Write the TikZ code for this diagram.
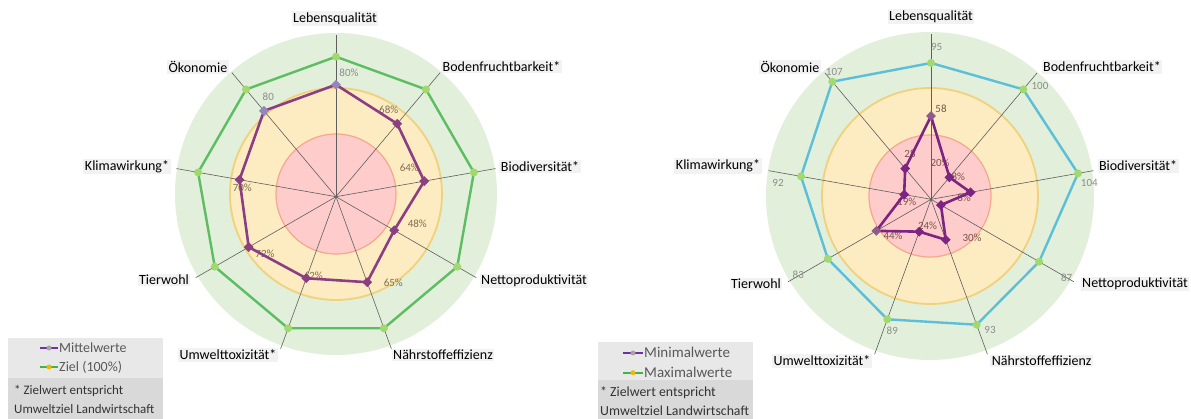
\documentclass[tikz,border=0pt]{standalone}
\usepackage{fontspec}
\setmainfont{Carlito}
\usetikzlibrary{calc,shapes.geometric}

\definecolor{bggreen}{HTML}{E2EFDA}
\definecolor{bgyellow}{HTML}{FDEBC1}
\definecolor{edgeyellow}{HTML}{F0D27C}
\definecolor{bgred}{HTML}{FFCCCC}
\definecolor{edgered}{HTML}{F6A78C}
\definecolor{zielgreen}{HTML}{5CBD62}
\definecolor{dotgreen}{HTML}{A2D96F}
\definecolor{maxblue}{HTML}{5BBFD9}
\definecolor{mittelpurple}{HTML}{8B3F82}
\definecolor{lightpurple}{HTML}{9485BE}
\definecolor{minpurple}{HTML}{7D2382}
\definecolor{minlight}{HTML}{8E5C8C}
\definecolor{axisgray}{HTML}{5E5E5E}
\definecolor{labelbg}{HTML}{F2F2F2}
\definecolor{dlgray}{HTML}{8C8C8C}
\definecolor{dlbrown}{HTML}{7D7050}
\definecolor{dlred}{HTML}{7A5548}
\definecolor{legbgA}{HTML}{E8E8E8}
\definecolor{legbgB}{HTML}{D9D9D9}
\definecolor{legpurple}{HTML}{7030A0}
\definecolor{leggreen}{HTML}{3DB54A}
\definecolor{legorange}{HTML}{F5B800}
\definecolor{leggray}{HTML}{A5A5A5}
\definecolor{legtextgray}{HTML}{595959}
\definecolor{notegray}{HTML}{333333}

\tikzset{
  axisline/.style={draw=axisgray, line width=0.6pt},
  axislabel/.style={font=\fontsize{14}{16}\selectfont, fill=labelbg, inner xsep=1.5pt, inner ysep=1.5pt, text=black},
  datalabel/.style={font=\fontsize{11}{13}\selectfont, inner sep=0pt},
  zielline/.style={draw=zielgreen, line width=2.4pt, line join=round},
  maxline/.style={draw=maxblue, line width=2.4pt, line join=round},
  mittelline/.style={draw=mittelpurple, line width=2.6pt, line join=round},
  minline/.style={draw=minpurple, line width=2.6pt, line join=round},
  gdot/.style={circle, fill=dotgreen, inner sep=0pt, minimum size=8pt},
  pdia/.style={diamond, fill=#1, inner sep=0pt, minimum size=10pt},
  legtext/.style={anchor=west, inner sep=0pt, text=legtextgray},
  notetext/.style={anchor=west, inner sep=0pt, text=notegray, font=\fontsize{13}{15}\selectfont},
}

\begin{document}
\begin{tikzpicture}[x=1pt,y=-1pt]
\useasboundingbox (0,0) rectangle (1191,419);

% ================= LEFT CHART =================
\coordinate (Lc) at (336,194);
\coordinate (Lh) at (336,196.7);
\fill[bggreen] (Lc) circle[radius=161];
\filldraw[fill=bgyellow, draw=edgeyellow, line width=1.8pt] (Lc) circle[radius=106];
\filldraw[fill=bgred, draw=edgered, line width=1.2pt] (Lc) circle[radius=60];
\foreach \k in {0,...,8} \draw[axisline] (Lh) -- ++({-90+40*\k}:162);

\foreach \v [count=\i from 0] in {80,68,64,48,65,62,72,70,80}
  \coordinate (Lm\i) at ($(Lh)+({-90+40*\i}:{1.40*\v})$);
\foreach \i in {0,...,8}
  \coordinate (Lz\i) at ($(Lh)+({-90+40*\i}:140)$);

% data labels
\node[datalabel, text=dlgray]  (lab80a) at (349,72.3) {80\%};
\node[datalabel, text=dlbrown] (lab68) at (388.7,110) {68\%};
\node[datalabel, text=dlbrown] (lab64) at (409.3,167.3) {64\%};
\node[datalabel, text=dlbrown] (lab48) at (417.3,224) {48\%};
\node[datalabel, text=dlbrown] (lab65) at (393.3,282.3) {65\%};
\node[datalabel, text=dlbrown] (lab62) at (313.3,275.7) {62\%};
\node[datalabel, text=dlbrown] (lab72) at (265,254) {72\%};
\node[datalabel, text=dlbrown] (lab70) at (242.3,187.7) {70\%};
\node[datalabel, text=dlgray]  (lab80b) at (268.3,96.7) {80};

\draw[zielline] (Lz0) -- (Lz1) -- (Lz2) -- (Lz3) -- (Lz4) -- (Lz5) -- (Lz6) -- (Lz7) -- (Lz8) -- cycle;
\foreach \i in {0,...,8} \node[gdot] (Lzd\i) at (Lz\i) {};
\draw[mittelline] (Lm0) -- (Lm1) -- (Lm2) -- (Lm3) -- (Lm4) -- (Lm5) -- (Lm6) -- (Lm7) -- (Lm8) -- cycle;
\foreach \i in {1,...,7} \node[pdia=mittelpurple] (Lmd\i) at (Lm\i) {};
\node[pdia=lightpurple] (Lmd0) at (Lm0) {};
\node[pdia=lightpurple] (Lmd8) at (Lm8) {};

% axis labels
\node[axislabel] (Lax0) at (335,18.3) {Lebensqualität};
\node[axislabel] (Lax1) at (501.5,66.7) {Bodenfruchtbarkeit*};
\node[axislabel] (Lax2) at (540,166.7) {Biodiversität*};
\node[axislabel] (Lax3) at (534,281) {Nettoproduktivität};
\node[axislabel] (Lax4) at (443,355) {Nährstoffeffizienz};
\node[axislabel] (Lax5) at (228,355) {Umwelttoxizität*};
\node[axislabel] (Lax6) at (164,280) {Tierwohl};
\node[axislabel] (Lax7) at (127,166.7) {Klimawirkung*};
\node[axislabel] (Lax8) at (198,66.7) {Ökonomie};

% legend
\fill[legbgA] (8,338) rectangle (163,378);
\fill[legbgB] (8,378) rectangle (163,419);
\coordinate (lg1a) at (40,348); \coordinate (lg1b) at (58,348);
\draw[legpurple, line width=1.8pt] (lg1a) -- (lg1b);
\node[circle, fill=leggray, inner sep=0pt, minimum size=5pt] (lg1d) at ($(lg1a)!0.5!(lg1b)$) {};
\coordinate (lg2a) at (40,367); \coordinate (lg2b) at (58,367);
\draw[leggreen, line width=1.8pt] (lg2a) -- (lg2b);
\node[circle, fill=legorange, inner sep=0pt, minimum size=5pt] (lg2d) at ($(lg2a)!0.5!(lg2b)$) {};
\node[legtext, font=\fontsize{14}{16}\selectfont] (lgt1) at (59,348) {Mittelwerte};
\node[legtext, font=\fontsize{14}{16}\selectfont] (lgt2) at (59,367) {Ziel (100\%)};
\node[notetext] (nt1) at (14,391) {* Zielwert entspricht};
\node[notetext] (nt2) at (14,409) {Umweltziel Landwirtschaft};

% ================= RIGHT CHART =================
\coordinate (Rc) at (930,196);
\coordinate (Rh) at (931,199.3);
\fill[bggreen] (Rc) circle[radius=164];
\filldraw[fill=bgyellow, draw=edgeyellow, line width=1.8pt] (Rc) circle[radius=108];
\filldraw[fill=bgred, draw=edgered, line width=1.2pt] (Rc) circle[radius=61];
\foreach \k in {0,...,8} \draw[axisline] (Rh) -- ++({-90+40*\k}:165);

\foreach \v [count=\i from 0] in {58,20,28,8,30,24,44,19,28}
  \coordinate (Rn\i) at ($(Rh)+({-90+40*\i}:{1.435*\v})$);
\foreach \v [count=\i from 0] in {95,100,104,87,93,89,83,92,107}
  \coordinate (Rx\i) at ($(Rh)+({-90+40*\i}:{1.435*\v})$);

% data labels
\node[datalabel, text=dlgray] (rl95) at (936.7,47.3) {95};
\node[datalabel, text=dlgray] (rl100) at (1040,86) {100};
\node[datalabel, text=dlgray] (rl104) at (1089.3,182.7) {104};
\node[datalabel, text=dlgray] (rl87) at (1066.7,277.7) {87};
\node[datalabel, text=dlgray] (rl93) at (990,330) {93};
\node[datalabel, text=dlgray] (rl89) at (892.3,330.7) {89};
\node[datalabel, text=dlgray] (rl83) at (798.3,275) {83};
\node[datalabel, text=dlgray] (rl92) at (778,183) {92};
\node[datalabel, text=dlgray] (rl107) at (834.3,72.3) {107};
\node[datalabel, text=dlred] (rn58) at (941,109) {58};
\node[datalabel, text=dlred] (rn28) at (910,153.3) {28};
\node[datalabel, text=dlred] (rn20) at (940,162.3) {20\%};
\node[datalabel, text=dlred] (rn18) at (955.5,176.7) {18\%};
\node[datalabel, text=dlred] (rn8) at (964,197.3) {8\%};
\node[datalabel, text=dlred] (rn30) at (972,237.7) {30\%};
\node[datalabel, text=dlred] (rn24) at (927.5,226) {24\%};
\node[datalabel, text=dlred] (rn44) at (893,236) {44\%};
\node[datalabel, text=dlred] (rn19) at (906.7,201.7) {19\%};

\draw[maxline] (Rx0) -- (Rx1) -- (Rx2) -- (Rx3) -- (Rx4) -- (Rx5) -- (Rx6) -- (Rx7) -- (Rx8) -- cycle;
\foreach \i in {0,...,8} \node[gdot] (Rxd\i) at (Rx\i) {};
\draw[minline] (Rn0) -- (Rn1) -- (Rn2) -- (Rn3) -- (Rn4) -- (Rn5) -- (Rn6) -- (Rn7) -- (Rn8) -- cycle;
\foreach \i in {1,...,5,7,8} \node[pdia=minpurple] (Rnd\i) at (Rn\i) {};
\node[pdia=minlight] (Rnd0) at (Rn0) {};
\node[pdia=minlight] (Rnd6) at (Rn6) {};

% axis labels
\node[axislabel] (Rax0) at (931,16.3) {Lebensqualität};
\node[axislabel] (Rax1) at (1102,67) {Bodenfruchtbarkeit*};
\node[axislabel] (Rax2) at (1138,166) {Biodiversität*};
\node[axislabel] (Rax3) at (1135,284) {Nettoproduktivität};
\node[axislabel] (Rax4) at (1041.6,361) {Nährstoffeffizienz};
\node[axislabel] (Rax5) at (822,361) {Umwelttoxizität*};
\node[axislabel] (Rax6) at (756,284) {Tierwohl};
\node[axislabel] (Rax7) at (718,166) {Klimawirkung*};
\node[axislabel] (Rax8) at (790,67) {Ökonomie};

% legend
\fill[legbgA] (598,342) rectangle (753,380);
\fill[legbgB] (598,380) rectangle (753,419);
\coordinate (rg1a) at (623,353); \coordinate (rg1b) at (643,353);
\draw[legpurple, line width=1.8pt] (rg1a) -- (rg1b);
\node[circle, fill=leggray, inner sep=0pt, minimum size=5pt] (rg1d) at ($(rg1a)!0.5!(rg1b)$) {};
\coordinate (rg2a) at (623,372.7); \coordinate (rg2b) at (643,372.7);
\draw[leggreen, line width=1.8pt] (rg2a) -- (rg2b);
\node[circle, fill=legorange, inner sep=0pt, minimum size=5pt] (rg2d) at ($(rg2a)!0.5!(rg2b)$) {};
\node[legtext, font=\fontsize{15}{17}\selectfont] (rgt1) at (644,352.7) {Minimalwerte};
\node[legtext, font=\fontsize{15}{17}\selectfont] (rgt2) at (644,372.7) {Maximalwerte};
\node[notetext, font=\fontsize{13.8}{16}\selectfont] (rnt1) at (600,393) {* Zielwert entspricht};
\node[notetext, font=\fontsize{13.8}{16}\selectfont] (rnt2) at (600,411) {Umweltziel Landwirtschaft};
\end{tikzpicture}
\end{document}
